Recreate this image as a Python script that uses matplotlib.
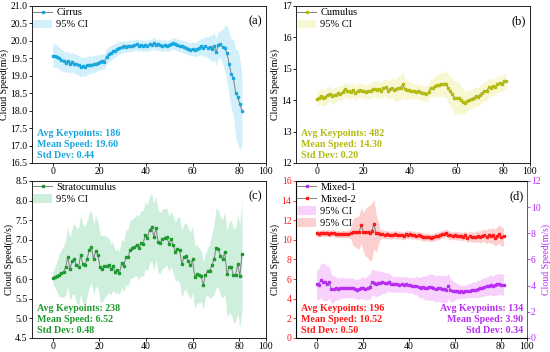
import numpy as np
import matplotlib
matplotlib.use("Agg")
import matplotlib.pyplot as plt
from matplotlib.lines import Line2D
from matplotlib.patches import Patch

plt.rcParams['font.family'] = ['Liberation Serif', 'DejaVu Serif']
plt.rcParams['font.size'] = 7

# frame index shared by all panels
frames = np.arange(1, 90)

# (a) Cirrus
cirrus = [19.58, 19.58, 19.55, 19.50, 19.45, 19.42, 19.38, 19.42, 19.35, 19.40,
          19.35, 19.33, 19.30, 19.25, 19.28, 19.24, 19.30, 19.32, 19.30, 19.35,
          19.33, 19.38, 19.40, 19.42, 19.40, 19.55, 19.62, 19.65, 19.70, 19.72,
          19.78, 19.80, 19.82, 19.84, 19.83, 19.85, 19.86, 19.85, 19.88, 19.90,
          19.86, 19.88, 19.85, 19.87, 19.86, 19.90, 19.88, 19.95, 19.88, 19.90,
          19.87, 19.86, 19.88, 19.85, 19.87, 19.90, 19.93, 19.90, 19.88, 19.86,
          19.85, 19.83, 19.80, 19.78, 19.75, 19.78, 19.74, 19.78, 19.80, 19.84,
          19.80, 19.85, 19.80, 19.82, 19.78, 19.85, 19.68, 19.88, 19.90, 19.82,
          19.80, 19.65, 19.35, 19.05, 18.95, 18.52, 18.40, 18.18, 18.00]
cirrus_ci = [0.33, 0.33, 0.32, 0.31, 0.30, 0.30, 0.29, 0.29, 0.28, 0.28,
             0.28, 0.28, 0.28, 0.28, 0.27, 0.27, 0.26, 0.26, 0.25, 0.25,
             0.24, 0.23, 0.22, 0.22, 0.22, 0.22, 0.22, 0.21, 0.20, 0.20,
             0.19, 0.18, 0.17, 0.17, 0.16, 0.16, 0.16, 0.16, 0.16, 0.16,
             0.16, 0.16, 0.16, 0.16, 0.16, 0.16, 0.16, 0.17, 0.16, 0.16,
             0.16, 0.16, 0.16, 0.16, 0.16, 0.16, 0.17, 0.17, 0.17, 0.17,
             0.17, 0.18, 0.18, 0.18, 0.19, 0.20, 0.20, 0.21, 0.22, 0.24,
             0.26, 0.28, 0.30, 0.33, 0.38, 0.40, 0.38, 0.36, 0.40, 0.50,
             0.65, 0.80, 0.90, 1.00, 1.10, 1.25, 1.35, 1.30, 1.00]

# (b) Cumulus
cumulus = [14.05, 14.07, 14.12, 14.08, 14.10, 14.18, 14.20, 14.12, 14.15, 14.18,
           14.22, 14.20, 14.25, 14.35, 14.28, 14.30, 14.25, 14.32, 14.22, 14.30,
           14.32, 14.28, 14.30, 14.25, 14.28, 14.30, 14.35, 14.35, 14.33, 14.35,
           14.30, 14.38, 14.42, 14.30, 14.35, 14.40, 14.32, 14.35, 14.38, 14.40,
           14.50, 14.35, 14.33, 14.32, 14.30, 14.30, 14.25, 14.28, 14.25, 14.22,
           14.22, 14.20, 14.25, 14.40, 14.38, 14.45, 14.48, 14.48, 14.50, 14.50,
           14.52, 14.40, 14.30, 14.20, 14.08, 14.07, 14.08, 14.00, 13.95, 13.92,
           13.98, 14.02, 14.05, 14.08, 14.12, 14.10, 14.18, 14.22, 14.30, 14.28,
           14.42, 14.38, 14.45, 14.42, 14.50, 14.55, 14.50, 14.60, 14.62]
cumulus_ci = [0.25, 0.25, 0.26, 0.26, 0.26, 0.25, 0.25, 0.24, 0.24, 0.24,
              0.24, 0.24, 0.24, 0.24, 0.24, 0.23, 0.23, 0.23, 0.23, 0.23,
              0.23, 0.23, 0.23, 0.23, 0.23, 0.24, 0.24, 0.25, 0.25, 0.26,
              0.26, 0.27, 0.28, 0.28, 0.30, 0.32, 0.34, 0.36, 0.38, 0.40,
              0.40, 0.35, 0.30, 0.27, 0.25, 0.24, 0.24, 0.24, 0.24, 0.24,
              0.24, 0.25, 0.26, 0.28, 0.30, 0.33, 0.35, 0.37, 0.38, 0.40,
              0.42, 0.45, 0.48, 0.50, 0.52, 0.52, 0.50, 0.45, 0.40, 0.35,
              0.32, 0.30, 0.30, 0.30, 0.30, 0.30, 0.30, 0.30, 0.30, 0.30,
              0.28, 0.28, 0.27, 0.27, 0.26, 0.26, 0.25, 0.25, 0.25]

# (c) Stratocumulus
strato = [6.03, 6.05, 6.07, 6.10, 6.15, 6.18, 6.30, 6.57, 6.25, 6.45,
          6.52, 6.35, 6.30, 6.62, 6.38, 6.35, 6.52, 6.75, 6.82, 6.50,
          6.72, 6.62, 6.30, 6.25, 6.32, 6.33, 6.36, 6.25, 6.32, 6.18,
          6.22, 6.15, 6.40, 6.32, 6.55, 6.55, 6.75, 6.78, 6.82, 6.87,
          6.78, 6.92, 6.90, 7.12, 7.05, 7.25, 7.32, 7.08, 7.30, 6.95,
          6.92, 7.02, 7.05, 7.08, 6.90, 7.02, 6.88, 6.70, 6.77, 6.75,
          6.38, 6.55, 6.58, 6.45, 6.35, 6.50, 6.05, 6.13, 6.10, 6.07,
          5.85, 6.10, 6.20, 6.20, 6.35, 6.50, 6.80, 6.77, 6.58, 6.52,
          6.68, 6.12, 6.30, 6.30, 6.10, 6.10, 6.38, 6.08, 6.63]
strato_ci = [0.15, 0.25, 0.40, 0.55, 0.60, 0.65, 0.70, 0.75, 0.80, 0.85,
             0.90, 0.95, 1.00, 1.00, 1.00, 1.00, 0.95, 0.95, 0.90, 0.90,
             0.90, 0.85, 0.85, 0.85, 0.80, 0.75, 0.70, 0.65, 0.60, 0.55,
             0.55, 0.55, 0.60, 0.65, 0.70, 0.72, 0.75, 0.75, 0.75, 0.78,
             0.80, 0.82, 0.85, 0.85, 0.85, 0.85, 0.85, 0.85, 0.80, 0.80,
             0.78, 0.75, 0.75, 0.72, 0.70, 0.70, 0.72, 0.75, 0.80, 0.85,
             0.85, 0.85, 0.85, 0.85, 0.85, 0.85, 0.80, 0.75, 0.70, 0.65,
             0.60, 0.55, 0.60, 0.70, 0.80, 0.90, 1.00, 1.00, 1.00, 1.00,
             1.05, 1.10, 1.15, 1.20, 1.20, 1.20, 1.25, 1.30, 1.40]

# (d) Mixed-1 (right axis) and Mixed-2 (left axis)
mixed1 = [4.10, 4.05, 4.40, 4.30, 4.25, 4.15, 4.25, 3.75, 3.72, 3.80,
          3.75, 3.80, 3.85, 3.78, 3.85, 3.80, 3.85, 3.82, 3.75, 3.70,
          3.75, 3.80, 3.85, 3.72, 3.85, 3.90, 4.25, 4.22, 4.15, 4.20,
          4.18, 4.25, 4.20, 4.22, 4.28, 4.15, 4.10, 4.10, 4.12, 4.08,
          4.10, 4.05, 4.10, 4.02, 4.05, 4.00, 3.95, 4.00, 3.90, 3.85,
          3.90, 3.80, 3.85, 3.90, 3.88, 3.85, 3.75, 3.80, 3.78, 3.72,
          3.75, 3.70, 4.00, 3.65, 3.60, 3.55, 3.58, 3.52, 3.55, 3.50,
          3.55, 3.60, 3.62, 3.65, 3.70, 3.68, 3.75, 3.80, 3.85, 3.90,
          3.95, 4.00, 4.05, 3.98, 4.05, 4.10, 4.12, 4.08, 4.05]
mixed1_ci = [1.1, 1.2, 1.3, 1.4, 1.4, 1.3, 1.2, 1.1, 1.0, 0.9,
             0.85, 0.8, 0.8, 0.75, 0.75, 0.75, 0.75, 0.75, 0.75, 0.75,
             0.8, 0.8, 0.85, 0.85, 0.9, 0.95, 1.0, 1.0, 1.0, 0.95,
             0.9, 0.85, 0.8, 0.75, 0.7, 0.65, 0.6, 0.6, 0.6, 0.6,
             0.6, 0.6, 0.6, 0.6, 0.6, 0.6, 0.65, 0.7, 0.75, 0.8,
             0.85, 0.9, 0.95, 1.0, 1.0, 1.0, 1.0, 1.0, 1.0, 1.05,
             1.05, 1.0, 0.95, 0.9, 0.8, 0.7, 0.6, 0.55, 0.5, 0.5,
             0.5, 0.5, 0.55, 0.55, 0.6, 0.6, 0.65, 0.65, 0.7, 0.7,
             0.7, 0.75, 0.75, 0.75, 0.8, 0.8, 0.8, 0.8, 0.8]
mixed2 = [10.70, 10.60, 10.65, 10.70, 10.65, 10.70, 10.60, 10.65, 10.70, 10.55,
          10.60, 10.55, 10.60, 10.60, 10.55, 10.60, 10.65, 10.80, 10.80, 10.75,
          10.75, 11.50, 10.80, 10.75, 10.80, 10.70, 10.85, 11.60, 10.70, 10.65,
          10.55, 10.60, 10.50, 10.55, 10.50, 10.45, 10.50, 10.55, 10.45, 10.50,
          10.45, 10.40, 10.55, 10.50, 10.60, 10.45, 10.50, 10.40, 10.45, 10.35,
          10.30, 10.25, 10.30, 10.25, 10.20, 10.25, 10.35, 10.40, 10.45, 10.55,
          10.60, 10.70, 10.50, 10.45, 10.40, 10.45, 10.40, 10.35, 10.40, 10.30,
          10.50, 10.15, 10.35, 10.30, 10.25, 10.30, 10.35, 10.30, 10.40, 10.45,
          10.30, 10.50, 10.35, 10.45, 10.20, 10.40, 10.60, 10.30, 10.35]
mixed2_ci = [0.35, 0.35, 0.35, 0.35, 0.35, 0.35, 0.35, 0.35, 0.35, 0.35,
             0.35, 0.35, 0.35, 0.35, 0.35, 0.40, 0.50, 1.30, 1.50, 1.60,
             1.70, 1.80, 2.00, 2.40, 2.60, 2.80, 2.90, 2.50, 2.00, 1.20,
             0.50, 0.45, 0.42, 0.40, 0.40, 0.40, 0.40, 0.40, 0.40, 0.40,
             0.40, 0.40, 0.40, 0.40, 0.40, 0.40, 0.40, 0.40, 0.40, 0.40,
             0.40, 0.40, 0.40, 0.40, 0.40, 0.40, 0.40, 0.40, 0.40, 0.40,
             0.42, 0.42, 0.42, 0.42, 0.42, 0.42, 0.42, 0.42, 0.42, 0.42,
             0.45, 0.45, 0.50, 0.50, 0.50, 0.55, 0.55, 0.60, 0.60, 0.65,
             0.70, 0.70, 0.75, 0.80, 0.85, 0.90, 0.95, 1.00, 0.90]

xticks_lbl = ['0', '20', '40', '60', '80', '100']
# the reference's tick labels sit at these frame positions
xticks_pos = [1, 22.7, 44.4, 66.1, 87.8, 100]

fig = plt.figure(figsize=(5.5, 3.52), dpi=100)


def setup(ax, ylim, yticks):
    ax.set_xlim(-8.7, 100)
    ax.set_xticks(xticks_pos)
    ax.set_xticklabels(xticks_lbl)
    ax.set_ylim(*ylim)
    ax.set_yticks(yticks)
    ax.tick_params(direction='out', length=2, width=0.6, pad=1.2, labelsize=7)
    for s in ax.spines.values():
        s.set_linewidth(0.6)
    ax.set_ylabel('Cloud Speed(m/s)', fontsize=7, labelpad=1)


def series(ax, y, ci, col, band):
    y = np.array(y)
    ci = np.array(ci)
    ax.fill_between(frames, y - ci, y + ci, color=band, lw=0, zorder=1)
    ax.plot(frames, y, color='#808080', lw=0.7, zorder=2)
    ax.plot(frames, y, ls='none', marker='s', ms=1.7, color=col, zorder=3)


def legend(ax, entries):
    handles = []
    labels = []
    for kind, col, lab in entries:
        if kind == 'line':
            handles.append(Line2D([], [], color='#808080', lw=0.7, marker='s',
                                  ms=1.7, mfc=col, mec=col))
        else:
            handles.append(Patch(fc=col, ec='none'))
        labels.append(lab)
    ax.legend(handles, labels, loc='upper left', frameon=False, fontsize=7.5,
              handlelength=1.8, handleheight=0.9, handletextpad=0.4,
              labelspacing=0.2, borderaxespad=0.05, borderpad=0.1)


def stats(ax, txt, col, x=0.02, ha='left'):
    ax.text(x, 0.02, txt, transform=ax.transAxes, color=col, fontsize=7.2,
            fontweight='bold', ha=ha, va='bottom', linespacing=1.3)


W, H = 0.425, 0.446

# (a)
ax = fig.add_axes([0.058, 0.537, W, H])
c_a = '#1AA7DE'
series(ax, cirrus, cirrus_ci, c_a, '#D2F0FB')
setup(ax, (16.5, 21.0), np.arange(16.5, 21.01, 0.5))
ax.yaxis.set_major_formatter(plt.FormatStrFormatter('%.1f'))
legend(ax, [('line', c_a, 'Cirrus'), ('patch', '#D2F0FB', '95% CI')])
ax.text(0.985, 0.885, '(a)', transform=ax.transAxes, fontsize=9, ha='right')
stats(ax, 'Avg Keypoints: 186\nMean Speed: 19.60\nStd Dev: 0.44', c_a)

# (b)
ax = fig.add_axes([0.538, 0.537, W, H])
c_b = '#B3BA12'
series(ax, cumulus, cumulus_ci, c_b, '#F7F8D2')
setup(ax, (12, 17), np.arange(12, 17.1, 1))
legend(ax, [('line', c_b, 'Cumulus'), ('patch', '#F7F8D2', '95% CI')])
ax.text(0.985, 0.885, '(b)', transform=ax.transAxes, fontsize=9, ha='right')
stats(ax, 'Avg Keypoints: 482\nMean Speed: 14.30\nStd Dev: 0.20', c_b)

# (c)
ax = fig.add_axes([0.058, 0.040, W, H])
c_c = '#1E9A2E'
series(ax, strato, strato_ci, c_c, '#CDEFDB')
setup(ax, (4.5, 8.5), np.arange(4.5, 8.51, 0.5))
ax.yaxis.set_major_formatter(plt.FormatStrFormatter('%.1f'))
legend(ax, [('line', c_c, 'Stratocumulus'), ('patch', '#CDEFDB', '95% CI')])
ax.text(0.985, 0.885, '(c)', transform=ax.transAxes, fontsize=9, ha='right')
stats(ax, 'Avg Keypoints: 238\nMean Speed: 6.52\nStd Dev: 0.48', c_c)

# (d)
ax = fig.add_axes([0.538, 0.040, 0.42, H])
ax2 = ax.twinx()
c_red = '#FF1A1A'
c_pur = '#B82EF0'
series(ax, mixed2, mixed2_ci, c_red, '#FDD0D0')
series(ax2, mixed1, mixed1_ci, c_pur, '#F8D2FC')
setup(ax, (0, 16), np.arange(0, 16.1, 2))
ax.tick_params(axis='y', colors=c_red)
ax.yaxis.label.set_color('black')
ax2.set_ylim(0, 12)
ax2.set_yticks(np.arange(0, 12.1, 2))
ax2.tick_params(direction='out', length=2, width=0.6, pad=1, labelsize=7,
                colors=c_pur)
ax2.spines['right'].set_color(c_pur)
ax2.spines['right'].set_linewidth(0.6)
ax2.set_ylabel('Cloud Speed(m/s)', fontsize=7, color=c_pur, labelpad=0.5)
legend(ax2, [('line', c_pur, 'Mixed-1'), ('line', c_red, 'Mixed-2'),
             ('patch', '#F8D2FC', '95% CI'), ('patch', '#FDD0D0', '95% CI')])
ax2.text(0.985, 0.885, '(d)', transform=ax2.transAxes, fontsize=9, ha='right')
stats(ax, 'Avg Keypoints: 196\nMean Speed: 10.52\nStd Dev: 0.50', c_red)
stats(ax2, 'Avg Keypoints: 134\nMean Speed: 3.90\nStd Dev: 0.34', c_pur,
      x=0.985, ha='right')

fig.savefig('out.png', dpi=100)
